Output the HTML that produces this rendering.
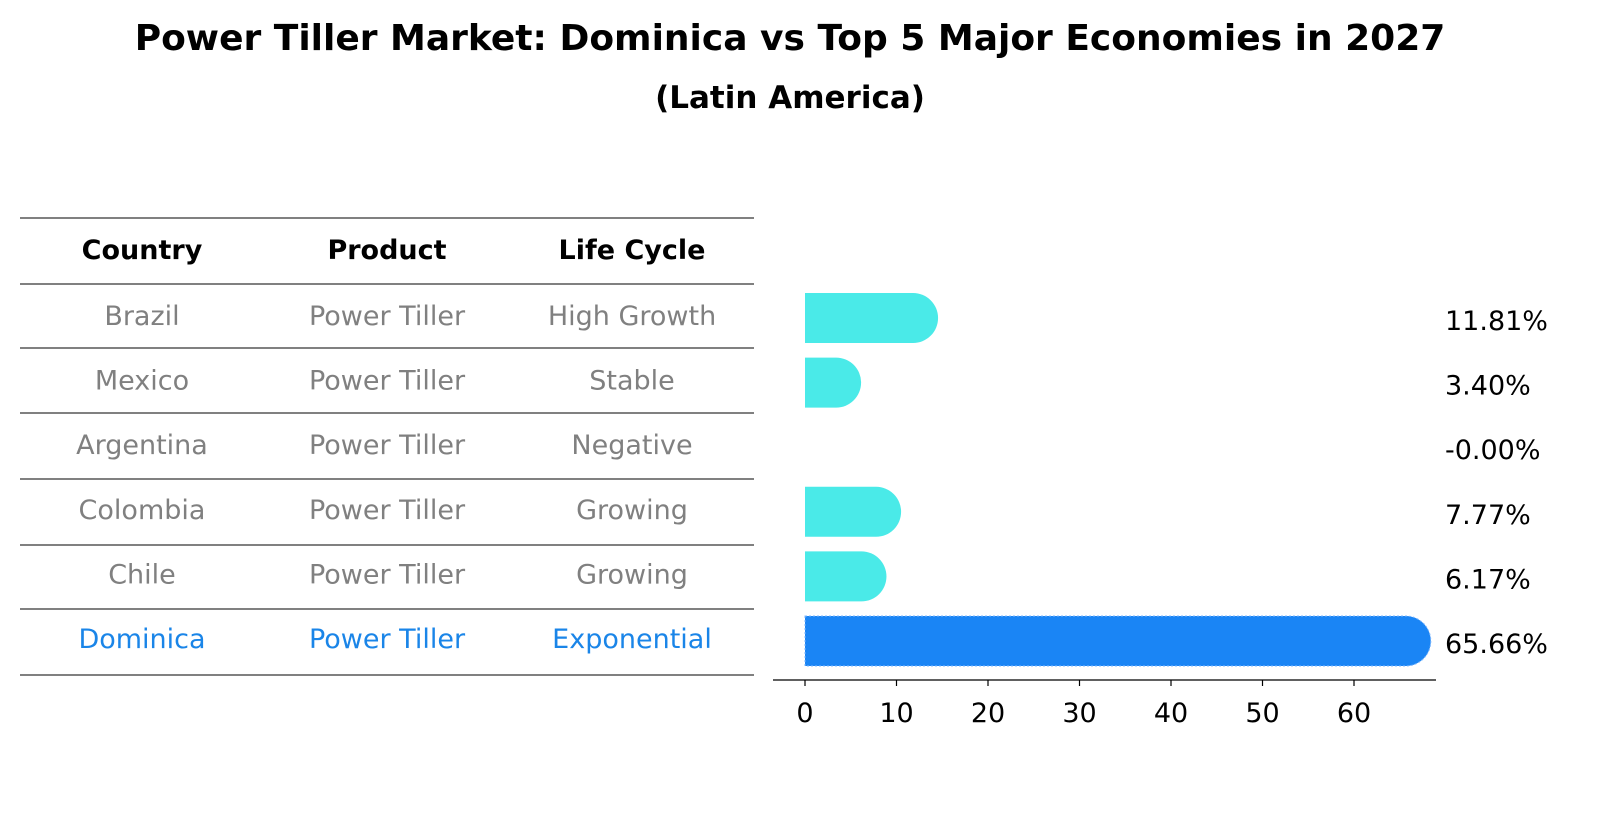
<!DOCTYPE html>
<html><head><meta charset="utf-8"><style>
body{margin:0;background:#fff;font-family:"Liberation Sans","DejaVu Sans",sans-serif}
</style></head><body>
<svg width="1604" height="823" xmlns="http://www.w3.org/2000/svg" font-family="DejaVu Sans, Liberation Sans, sans-serif">
<text x="790" y="50" text-anchor="middle" font-size="36" font-weight="bold">Power Tiller Market: Dominica vs Top 5 Major Economies in 2027</text>
<text x="790" y="108" text-anchor="middle" font-size="31" font-weight="bold">(Latin America)</text>
<g id="table"></g>
<g id="bars"></g>
<g id="axis"></g>
</svg>
<script>
const countries=["Brazil","Mexico","Argentina","Colombia","Chile","Dominica"];
const products=["Power Tiller","Power Tiller","Power Tiller","Power Tiller","Power Tiller","Power Tiller"];
const lifeCycles=["High Growth","Stable","Negative","Growing","Growing","Exponential"];
const values=[11.81,3.40,-0.00,7.77,6.17,65.66];
const ticks=[0,10,20,30,40,50,60];
const NS="http://www.w3.org/2000/svg";
function mk(tag,attrs,parent){const e=document.createElementNS(NS,tag);for(const k in attrs)e.setAttribute(k,attrs[k]);parent.appendChild(e);return e;}
const x=v=>805+v*9.15;
const rowY=i=>316+i*64.6;
const table=document.getElementById('table');
const lineYs=[218,284,348,413,479,545,609,675];
lineYs.forEach(y=>{const l=mk('line',{x1:20,x2:754,y1:y,y2:y,stroke:'#000','stroke-width':1},table);

});
const colX=[142,387,632];
["Country","Product","Life Cycle"].forEach((h,j)=>{const t=mk('text',{x:colX[j],y:259,'text-anchor':'middle','font-size':27,'font-weight':'bold'},table);t.textContent=h;

});
countries.forEach((c,i)=>{const col=i===countries.length-1?'#1a85e8':'#808080';
[c,products[i],lifeCycles[i]].forEach((s,j)=>{const t=mk('text',{x:colX[j],y:rowY(i)+9,'text-anchor':'middle','font-size':27,fill:col},table);t.textContent=s;

});});
const bars=document.getElementById('bars');
const r=25;
values.forEach((v,i)=>{const cy=rowY(i)+2,last=i===values.length-1;
if(v>0){const x0=x(0),x1=x(v);
const p=mk('path',{d:`M${x0},${cy-r}H${x1}A${r},${r} 0 0 1 ${x1},${cy+r}H${x0}Z`,fill:last?'#1a85f5':'#4aeae8'},bars);
if(last){p.setAttribute('stroke','#7fb8ff');p.setAttribute('stroke-dasharray','2,2');}

}
const t=mk('text',{x:1445,y:cy+12,'font-size':27},bars);t.textContent=v.toFixed(2)+'%';
if(v===0)t.textContent='-0.00%';

});
const axis=document.getElementById('axis');
const al=mk('line',{x1:773,x2:1436,y1:680,y2:680,stroke:'#000','stroke-width':1.2},axis);


ticks.forEach(v=>{const tl=mk('line',{x1:x(v),x2:x(v),y1:680,y2:686,stroke:'#000','stroke-width':1.2},axis);


const t=mk('text',{x:x(v),y:722,'text-anchor':'middle','font-size':27},axis);t.textContent=v;

});
</script>
</body></html>
